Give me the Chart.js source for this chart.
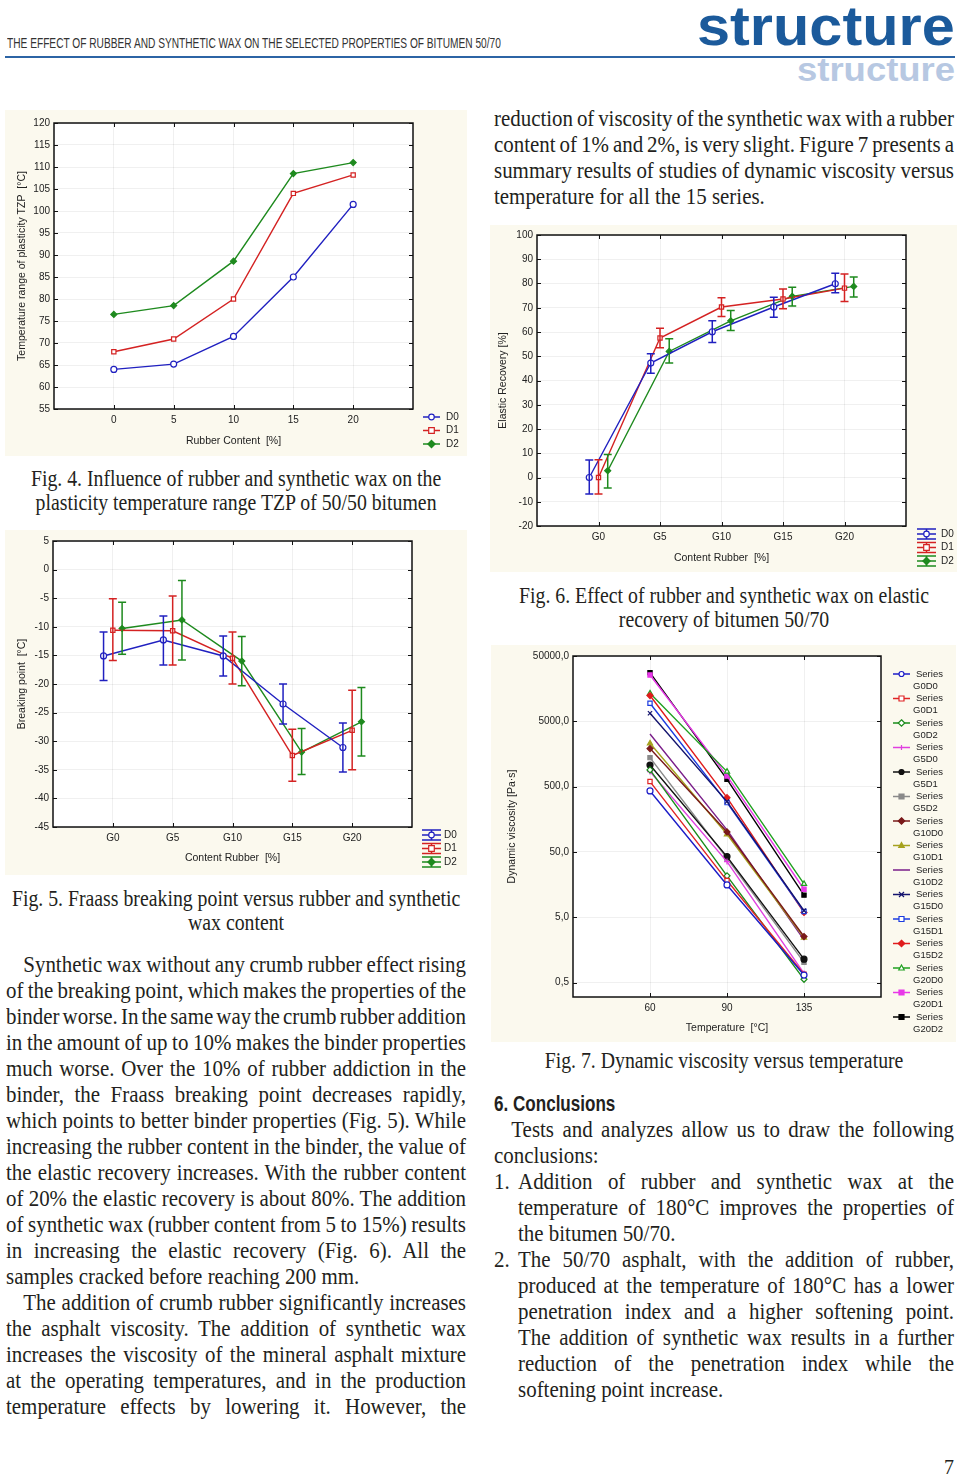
<!DOCTYPE html>
<html lang="en">
<head>
<meta charset="UTF-8">
<title>The effect of rubber and synthetic wax on the selected properties of bitumen 50/70</title>
<style>
    body { margin: 0; background: #fff; }
    #page { position: relative; width: 960px; height: 1477px; overflow: hidden; background: #fff; color: #231f20; }
    .abs { position: absolute; }
    .panel { position: absolute; background: #fbf9ee; }
    .txt {
        position: absolute;
        font-family: 'Liberation Serif', 'Times New Roman', serif;
        font-size: 23px;
        line-height: 26px;
        width: 535px;
        transform: scaleX(0.86);
        transform-origin: 0 0;
    }
    .txt.body { width: 505.5px; transform: scaleX(0.91); }
    .j { text-align: justify; text-align-last: justify; }
    .ind { text-indent: 19px; }
    .cap { line-height: 24px; text-align: center; }
    .item { position: relative; padding-left: 26.4px; }
    .item .num { position: absolute; left: 0; top: 0; }
    #runhead { font-family: 'Liberation Sans Narrow', 'Liberation Sans', Arial, sans-serif; font-size: 15px; white-space: nowrap; color: #333; }
    .logo { font-family: 'Liberation Sans', Arial, sans-serif; font-weight: bold; white-space: nowrap; }
    h2 { margin: 0; font-family: 'Liberation Sans Narrow', 'Liberation Sans', Arial, sans-serif; font-weight: bold; font-size: 22px; line-height: 24px; color: #231f20; white-space: nowrap; }
</style>
<script src="https://cdn.jsdelivr.net/npm/chart.js"></script>
</head>
<body>
<div id="page">

    <div id="runhead" class="abs" style="left:7px;top:34px;">THE EFFECT OF RUBBER AND SYNTHETIC WAX ON THE SELECTED PROPERTIES OF BITUMEN 50/70</div>
    <div class="abs" style="left:5px;top:56px;width:950px;height:2px;background:#2c64a5;"></div>
    <div id="logo1" class="abs logo" style="left:697px;top:-2px;font-size:56px;line-height:56px;color:#1b5a9b;">structure</div>
    <div id="logo2" class="abs logo" style="left:797px;top:53px;font-size:33px;line-height:33px;color:#b7c8e2;">structure</div>

    <!-- figure panels -->
    <div class="panel" style="left:5px;top:110px;width:462px;height:346px;"><canvas id="fig4" width="462" height="346"></canvas></div>
    <div class="panel" style="left:5px;top:530px;width:462px;height:345px;"><canvas id="fig5" width="462" height="345"></canvas></div>
    <div class="panel" style="left:490px;top:225px;width:467px;height:347px;"><canvas id="fig6" width="467" height="347"></canvas></div>
    <div class="panel" style="left:491px;top:645px;width:465px;height:397px;"><canvas id="fig7" width="465" height="397"></canvas></div>

    <!-- captions -->
    <div class="txt cap" style="left:6px;top:467px;">
        <div>Fig. 4. Influence of rubber and synthetic wax on the</div>
        <div>plasticity temperature range TZP of 50/50 bitumen</div>
    </div>
    <div class="txt cap" style="left:6px;top:887px;">
        <div>Fig. 5. Fraass breaking point versus rubber and synthetic</div>
        <div>wax content</div>
    </div>
    <div class="txt cap" style="left:494px;top:584px;">
        <div>Fig. 6. Effect of rubber and synthetic wax on elastic</div>
        <div>recovery of bitumen 50/70</div>
    </div>
    <div class="txt cap" style="left:494px;top:1049px;">
        <div>Fig. 7. Dynamic viscosity versus temperature</div>
    </div>

    <!-- right column, top -->
    <div class="txt body" style="left:494px;top:106px;">
        <div class="j">reduction of viscosity of the synthetic wax with a rubber</div>
        <div class="j">content of 1% and 2%, is very slight. Figure 7 presents a</div>
        <div class="j">summary results of studies of dynamic viscosity versus</div>
        <div>temperature for all the 15 series.</div>
    </div>

    <!-- left column, body -->
    <div class="txt body" style="left:6px;top:952px;">
        <div class="j ind">Synthetic wax without any crumb rubber effect rising</div>
        <div class="j">of the breaking point, which makes the properties of the</div>
        <div class="j">binder worse. In the same way the crumb rubber addition</div>
        <div class="j">in the amount of up to 10% makes the binder properties</div>
        <div class="j">much worse. Over the 10% of rubber addiction in the</div>
        <div class="j">binder, the Fraass breaking point decreases rapidly,</div>
        <div class="j">which points to better binder properties (Fig. 5). While</div>
        <div class="j">increasing the rubber content in the binder, the value of</div>
        <div class="j">the elastic recovery increases. With the rubber content</div>
        <div class="j">of 20% the elastic recovery is about 80%. The addition</div>
        <div class="j">of synthetic wax (rubber content from 5 to 15%) results</div>
        <div class="j">in increasing the elastic recovery (Fig. 6). All the</div>
        <div>samples cracked before reaching 200 mm.</div>
        <div class="j ind">The addition of crumb rubber significantly increases</div>
        <div class="j">the asphalt viscosity. The addition of synthetic wax</div>
        <div class="j">increases the viscosity of the mineral asphalt mixture</div>
        <div class="j">at the operating temperatures, and in the production</div>
        <div class="j">temperature effects by lowering it. However, the</div>
    </div>

    <!-- conclusions -->
    <h2 id="concl" class="abs" style="left:494px;top:1092px;">6. Conclusions</h2>
    <div class="txt body" style="left:494px;top:1117px;">
        <div class="j ind">Tests and analyzes allow us to draw the following</div>
        <div>conclusions:</div>
        <div class="item"><span class="num">1.</span>
            <div class="j">Addition of rubber and synthetic wax at the</div>
            <div class="j">temperature of 180°C improves the properties of</div>
            <div>the bitumen 50/70.</div>
        </div>
        <div class="item"><span class="num">2.</span>
            <div class="j">The 50/70 asphalt, with the addition of rubber,</div>
            <div class="j">produced at the temperature of 180°C has a lower</div>
            <div class="j">penetration index and a higher softening point.</div>
            <div class="j">The addition of synthetic wax results in a further</div>
            <div class="j">reduction of the penetration index while the</div>
            <div>softening point increase.</div>
        </div>
    </div>

    <div class="abs" style="left:944px;top:1456px;font:20px 'Liberation Serif',serif;line-height:22px;">7</div>
</div>

<script>
    // ---- Fig. 4: plasticity temperature range TZP [°C]
    const rubberContent = [0, 5, 10, 15, 20];
    const tzpD0 = [64.0, 65.2, 71.5, 85.0, 101.5];
    const tzpD1 = [68.0, 70.9, 80.0, 104.0, 108.2];
    const tzpD2 = [76.5, 78.5, 88.6, 108.5, 111.0];

    // ---- Fig. 5: Fraass breaking point [°C] (mean, lower, upper)
    const contentLabels = ['G0', 'G5', 'G10', 'G15', 'G20'];
    const brkD0 = [-15.1, -12.3, -15.1, -23.5, -31.1];
    const brkD0Lo = [-19.4, -16.7, -18.6, -27.0, -35.4];
    const brkD0Hi = [-10.9, -8.1, -11.6, -20.0, -26.8];
    const brkD1 = [-10.6, -10.7, -15.5, -32.5, -28.1];
    const brkD1Lo = [-15.9, -16.7, -20.0, -37.0, -35.0];
    const brkD1Hi = [-5.1, -4.6, -10.9, -27.9, -21.1];
    const brkD2 = [-10.3, -8.8, -16.0, -31.9, -26.6];
    const brkD2Lo = [-14.8, -15.8, -20.3, -35.8, -32.6];
    const brkD2Hi = [-5.7, -1.9, -11.7, -27.8, -20.6];

    // ---- Fig. 6: elastic recovery [%] (mean, lower, upper)
    const recD0 = [0.0, 47.2, 60.1, 70.3, 79.9];
    const recD0Lo = [-6.8, 43.0, 55.7, 66.1, 76.2];
    const recD0Hi = [7.2, 51.0, 64.6, 74.3, 84.2];
    const recD1 = [0.0, 57.5, 70.3, 73.6, 78.1];
    const recD1Lo = [-6.8, 53.5, 66.4, 69.6, 72.6];
    const recD1Hi = [7.3, 61.5, 74.1, 77.7, 83.9];
    const recD2 = [2.8, 52.0, 64.6, 74.7, 78.8];
    const recD2Lo = [-4.3, 47.2, 60.6, 70.7, 74.4];
    const recD2Hi = [9.5, 57.2, 68.9, 78.5, 82.7];

    // ---- Fig. 7: dynamic viscosity [Pa·s] at 60, 90, 135 °C
    const tempLabels = ['60', '90', '135'];
    const viscTicks = [0.5, 5, 50, 500, 5000, 50000];
    const viscG0D0 = [429, 15.6, 0.65];
    const viscG0D1 = [597, 18.2, 0.67];
    const viscG0D2 = [900, 21.5, 0.56];
    const viscG5D0 = [850, 35.5, 0.69];
    const viscG5D1 = [1070, 42.4, 1.14];
    const viscG5D2 = [1390, 40.0, 1.02];
    const viscG10D0 = [1910, 101, 2.53];
    const viscG10D1 = [2300, 93, 2.44];
    const viscG10D2 = [3200, 109, 2.25];
    const viscG15D0 = [6630, 295, 6.3];
    const viscG15D1 = [9440, 284, 6.1];
    const viscG15D2 = [12400, 339, 5.9];
    const viscG20D0 = [13400, 849, 16.2];
    const viscG20D1 = [25600, 728, 13.4];
    const viscG20D2 = [27800, 647, 10.9];
    const viscNames = ['G0D0', 'G0D1', 'G0D2', 'G5D0', 'G5D1', 'G5D2', 'G10D0', 'G10D1', 'G10D2',
                       'G15D0', 'G15D1', 'G15D2', 'G20D0', 'G20D1', 'G20D2'];
    const viscValues = [viscG0D0, viscG0D1, viscG0D2, viscG5D0, viscG5D1, viscG5D2, viscG10D0, viscG10D1,
                        viscG10D2, viscG15D0, viscG15D1, viscG15D2, viscG20D0, viscG20D1, viscG20D2];

    // styles
    const BLUE = '#2020c0', RED = '#d42222', GREEN = '#1e8a1e';
    const GRID = 'rgba(0,0,0,0.06)';
    const SANS = "'Liberation Sans', Arial, sans-serif";
    const viscStyles = [
        ['#1c1cc8', 'circle', false], ['#e02424', 'rect', false], ['#1a8c1a', 'rectRot', false],
        ['#e040e0', 'cross', true], ['#111111', 'circle', true], ['#8a8a8a', 'rect', true],
        ['#7a1a1a', 'rectRot', true], ['#a6a21e', 'triangle', true], ['#7a1e8a', 'line', true],
        ['#14146e', 'crossRot', true], ['#1c3ce0', 'rect', false], ['#e01c1c', 'rectRot', true],
        ['#20a020', 'triangle', false], ['#e838e8', 'rect', true], ['#000000', 'rect', true]
    ];

    function fitWidth(id, w) {
        const el = document.getElementById(id);
        el.style.transformOrigin = '0 0';
        el.style.transform = 'scaleX(' + (w / el.scrollWidth) + ')';
    }
    fitWidth('runhead', 494);
    fitWidth('logo1', 258);
    fitWidth('logo2', 158);
    fitWidth('concl', 121);

    // tighten word spacing on justified lines that would not fit (keeps the line breaks)
    document.querySelectorAll('.txt.body .j').forEach(el => {
        const indent = parseFloat(getComputedStyle(el).textIndent) || 0;
        el.style.textAlign = 'left';
        el.style.textAlignLast = 'left';
        el.style.whiteSpace = 'nowrap';
        const r = document.createRange();
        r.selectNodeContents(el);
        const natural = r.getBoundingClientRect().width / 0.91;
        const avail = el.clientWidth - indent - 1;
        el.style.textAlign = '';
        el.style.textAlignLast = '';
        el.style.whiteSpace = '';
        if (natural > avail) {
            const gaps = el.textContent.trim().split(/\s+/).length - 1;
            el.style.wordSpacing = ((avail - natural) / gaps) + 'px';
        }
    });

    function drawMarker(ctx, style, x, y, r, stroke, fill) {
        ctx.save();
        ctx.strokeStyle = stroke;
        ctx.fillStyle = fill;
        ctx.lineWidth = 1.2;
        ctx.beginPath();
        if (style === 'circle') ctx.arc(x, y, r, 0, Math.PI * 2);
        else if (style === 'rect') ctx.rect(x - r, y - r, 2 * r, 2 * r);
        else if (style === 'rectRot') {
            ctx.moveTo(x, y - r * 1.3); ctx.lineTo(x + r * 1.3, y);
            ctx.lineTo(x, y + r * 1.3); ctx.lineTo(x - r * 1.3, y); ctx.closePath();
        } else if (style === 'triangle') {
            ctx.moveTo(x, y - r * 1.2); ctx.lineTo(x + r * 1.1, y + r * 0.8);
            ctx.lineTo(x - r * 1.1, y + r * 0.8); ctx.closePath();
        } else if (style === 'cross') {
            ctx.moveTo(x - r, y); ctx.lineTo(x + r, y); ctx.moveTo(x, y - r); ctx.lineTo(x, y + r);
        } else if (style === 'crossRot') {
            ctx.moveTo(x - r, y - r); ctx.lineTo(x + r, y + r); ctx.moveTo(x - r, y + r); ctx.lineTo(x + r, y - r);
        }
        if (['circle', 'rect', 'rectRot', 'triangle'].includes(style)) ctx.fill();
        if (style !== 'line') ctx.stroke();
        ctx.restore();
    }

    // white plot area, black frame and inward tick marks
    const framePlugin = {
        id: 'frame',
        beforeDraw(chart) {
            const { ctx, chartArea: a } = chart;
            ctx.save();
            ctx.fillStyle = '#fff';
            ctx.fillRect(a.left, a.top, a.width, a.height);
            ctx.restore();
        },
        afterDraw(chart) {
            const { ctx, chartArea: a, scales } = chart;
            ctx.save();
            ctx.strokeStyle = '#111';
            ctx.lineWidth = 1.5;
            ctx.strokeRect(a.left, a.top, a.width, a.height);
            ctx.lineWidth = 1;
            ctx.beginPath();
            scales.x.ticks.forEach(t => {
                const px = Math.round(scales.x.getPixelForValue(t.value)) + 0.5;
                ctx.moveTo(px, a.bottom); ctx.lineTo(px, a.bottom - 4);
                ctx.moveTo(px, a.top); ctx.lineTo(px, a.top + 4);
            });
            scales.y.ticks.forEach(t => {
                const py = Math.round(scales.y.getPixelForValue(t.value)) + 0.5;
                ctx.moveTo(a.left, py); ctx.lineTo(a.left + 4, py);
                ctx.moveTo(a.right, py); ctx.lineTo(a.right - 4, py);
            });
            ctx.stroke();
            ctx.restore();
        }
    };

    // vertical error bars from errLo / errHi arrays on the dataset
    const errorBarPlugin = {
        id: 'errbars',
        afterDatasetsDraw(chart) {
            const { ctx, scales: { x, y } } = chart;
            chart.data.datasets.forEach(ds => {
                if (!ds.errLo) return;
                ctx.save();
                ctx.strokeStyle = ds.borderColor;
                ctx.lineWidth = 1.5;
                ctx.beginPath();
                ds.data.forEach((p, i) => {
                    const px = x.getPixelForValue(p.x);
                    const yl = y.getPixelForValue(ds.errLo[i]);
                    const yh = y.getPixelForValue(ds.errHi[i]);
                    ctx.moveTo(px, yl); ctx.lineTo(px, yh);
                    ctx.moveTo(px - 4, yl); ctx.lineTo(px + 4, yl);
                    ctx.moveTo(px - 4, yh); ctx.lineTo(px + 4, yh);
                });
                ctx.stroke();
                ctx.restore();
            });
        }
    };

    // legend drawn at fixed spot in the lower right
    const sideLegendPlugin = {
        id: 'sideLegend',
        afterDraw(chart, args, o) {
            const ctx = chart.ctx;
            chart.data.datasets.forEach((ds, i) => {
                const y = o.y + i * o.dy;
                const x0 = o.x, x1 = o.x + o.len, xm = (x0 + x1) / 2;
                ctx.save();
                ctx.strokeStyle = ds.borderColor;
                ctx.lineWidth = 1.5;
                ctx.beginPath();
                ctx.moveTo(x0, y); ctx.lineTo(x1, y);
                if (o.errSymbol) {
                    ctx.moveTo(x0, y - o.cap); ctx.lineTo(x1, y - o.cap);
                    ctx.moveTo(x0, y + o.cap); ctx.lineTo(x1, y + o.cap);
                    ctx.moveTo(xm, y - o.cap); ctx.lineTo(xm, y + o.cap);
                }
                ctx.stroke();
                ctx.restore();
                drawMarker(ctx, ds.pointStyle, xm, y, o.r, ds.pointBorderColor, ds.pointBackgroundColor);
                ctx.save();
                ctx.fillStyle = '#222';
                ctx.font = o.font;
                ctx.textBaseline = 'middle';
                ctx.textAlign = 'left';
                String(ds.label).split('\n').forEach((t, k) => {
                    ctx.fillText(t, k ? o.tx2 : o.tx, y + k * o.lh);
                });
                ctx.restore();
            });
        }
    };

    // options with a pinned plot area: area = [left, top, right, bottom] in canvas px
    function plotOptions(c) {
        const tfs = 10.5, lh = tfs * 1.2;
        return {
            responsive: false,
            animation: false,
            devicePixelRatio: 1,
            layout: { padding: { left: 0, top: c.area[1], right: c.W - c.area[2], bottom: 0 } },
            plugins: { legend: { display: false }, tooltip: { enabled: false }, sideLegend: c.legend },
            scales: {
                x: {
                    type: 'linear', min: c.xMin, max: c.xMax,
                    afterBuildTicks: s => { s.ticks = c.xTicks.map(v => ({ value: v })); },
                    afterFit: s => { s.height = c.H - c.area[3]; },
                    grid: { color: GRID, drawTicks: false },
                    border: { display: false },
                    ticks: { font: { family: SANS, size: 10 }, color: '#222', padding: 5, maxRotation: 0,
                             autoSkip: false, callback: c.xFormat },
                    title: { display: true, text: c.xTitle, color: '#222', font: { family: SANS, size: tfs },
                             padding: { top: 0, bottom: c.H - c.xTitleY - lh / 2 } }
                },
                y: Object.assign({
                    afterFit: s => { s.width = c.area[0]; },
                    grid: { color: GRID, drawTicks: false },
                    border: { display: false },
                    ticks: { font: { family: SANS, size: 10 }, color: '#222', padding: 4, autoSkip: false },
                    title: { display: true, text: c.yTitle, color: '#222', font: { family: SANS, size: tfs },
                             padding: { top: c.yTitleX - lh / 2, bottom: 0 } }
                }, c.y)
            }
        };
    }

    function series(label, xs, ys, color, style, filled, extra) {
        return Object.assign({
            label: label,
            data: ys.map((v, i) => ({ x: xs[i], y: v })),
            showLine: true,
            borderColor: color,
            borderWidth: 1.4,
            pointStyle: style,
            pointRadius: style === 'line' ? 0 : 3,
            pointBorderColor: color,
            pointBackgroundColor: filled ? color : '#fff',
            pointBorderWidth: 1.2
        }, extra || {});
    }

    // ---- Fig. 4
    new Chart(document.getElementById('fig4'), {
        type: 'scatter',
        data: {
            datasets: [
                series('D0', rubberContent, tzpD0, BLUE, 'circle', false),
                series('D1', rubberContent, tzpD1, RED, 'rect', false),
                series('D2', rubberContent, tzpD2, GREEN, 'rectRot', true)
            ]
        },
        options: plotOptions({
            W: 462, H: 346, area: [49, 13, 408, 299], yTitleX: 17, xTitleY: 331,
            xMin: -5, xMax: 25, xTicks: rubberContent, xFormat: v => v,
            xTitle: 'Rubber Content  [%]', yTitle: 'Temperature range of plasticity TZP  [°C]',
            y: { min: 55, max: 120, ticks: { stepSize: 5, font: { family: SANS, size: 10 }, color: '#222', padding: 4 } },
            legend: { x: 418, y: 307, dy: 13.5, len: 17, r: 2.8, tx: 441, tx2: 441, lh: 0, font: '10px ' + SANS }
        }),
        plugins: [framePlugin, sideLegendPlugin]
    });

    const idx = contentLabels.map((_, i) => i);
    const shift = d => idx.map(i => i + d);

    // ---- Fig. 5
    new Chart(document.getElementById('fig5'), {
        type: 'scatter',
        data: {
            datasets: [
                series('D0', shift(-0.155), brkD0, BLUE, 'circle', false, { errLo: brkD0Lo, errHi: brkD0Hi }),
                series('D1', shift(0), brkD1, RED, 'rect', false, { errLo: brkD1Lo, errHi: brkD1Hi }),
                series('D2', shift(0.155), brkD2, GREEN, 'rectRot', true, { errLo: brkD2Lo, errHi: brkD2Hi })
            ]
        },
        options: plotOptions({
            W: 462, H: 345, area: [48, 11, 407, 297], yTitleX: 17, xTitleY: 328,
            xMin: -1, xMax: 5, xTicks: idx, xFormat: v => contentLabels[v],
            xTitle: 'Content Rubber  [%]', yTitle: 'Breaking point  [°C]',
            y: { min: -45, max: 5, ticks: { stepSize: 5, font: { family: SANS, size: 10 }, color: '#222', padding: 4 } },
            legend: { x: 417, y: 305, dy: 13.5, len: 19, r: 2.8, cap: 5, errSymbol: true, tx: 439, tx2: 439, lh: 0, font: '10px ' + SANS }
        }),
        plugins: [framePlugin, errorBarPlugin, sideLegendPlugin]
    });

    // ---- Fig. 6
    new Chart(document.getElementById('fig6'), {
        type: 'scatter',
        data: {
            datasets: [
                series('D0', shift(-0.15), recD0, BLUE, 'circle', false, { errLo: recD0Lo, errHi: recD0Hi }),
                series('D1', shift(0), recD1, RED, 'rect', false, { errLo: recD1Lo, errHi: recD1Hi }),
                series('D2', shift(0.15), recD2, GREEN, 'rectRot', true, { errLo: recD2Lo, errHi: recD2Hi })
            ]
        },
        options: plotOptions({
            W: 467, H: 347, area: [47, 10, 416, 301], yTitleX: 13, xTitleY: 333,
            xMin: -1, xMax: 5, xTicks: idx, xFormat: v => contentLabels[v],
            xTitle: 'Content Rubber  [%]', yTitle: 'Elastic Recovery [%]',
            y: { min: -20, max: 100, ticks: { stepSize: 10, font: { family: SANS, size: 10 }, color: '#222', padding: 4 } },
            legend: { x: 427, y: 309, dy: 13.5, len: 19, r: 2.8, cap: 5, errSymbol: true, tx: 451, tx2: 451, lh: 0, font: '10px ' + SANS }
        }),
        plugins: [framePlugin, errorBarPlugin, sideLegendPlugin]
    });

    // ---- Fig. 7
    const tempIdx = tempLabels.map((_, i) => i);
    new Chart(document.getElementById('fig7'), {
        type: 'scatter',
        data: {
            datasets: viscValues.map((vals, i) =>
                series('Series\n' + viscNames[i], tempIdx, vals, viscStyles[i][0], viscStyles[i][1], viscStyles[i][2]))
        },
        options: plotOptions({
            W: 465, H: 397, area: [82, 11, 390, 352], yTitleX: 21, xTitleY: 383,
            xMin: -1, xMax: 3, xTicks: tempIdx, xFormat: v => tempLabels[v],
            xTitle: 'Temperature  [°C]', yTitle: 'Dynamic viscosity [Pa·s]',
            y: {
                type: 'logarithmic', min: 0.3, max: 50000,
                afterBuildTicks: s => { s.ticks = viscTicks.map(v => ({ value: v })); },
                ticks: { font: { family: SANS, size: 10 }, color: '#222', padding: 4, autoSkip: false,
                         callback: v => v.toFixed(1).replace('.', ',') }
            },
            legend: { x: 402, y: 29, dy: 24.5, len: 17, r: 2.5, tx: 425, tx2: 422, lh: 12, font: '9.5px ' + SANS }
        }),
        plugins: [framePlugin, sideLegendPlugin]
    });
</script>
</body>
</html>
